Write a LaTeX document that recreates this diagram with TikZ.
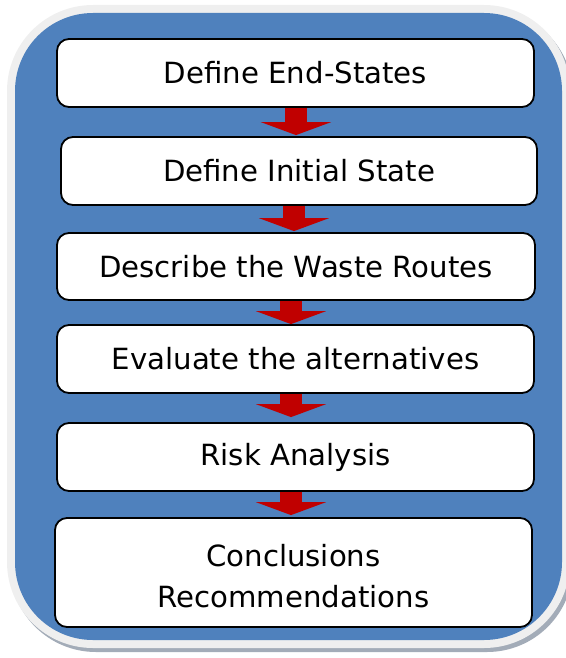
\documentclass[tikz,border=0pt]{standalone}
\usepackage{fontspec}
\setmainfont{DejaVu Sans}
\usetikzlibrary{arrows.meta,calc}
\definecolor{panelblue}{HTML}{4F81BD}
\definecolor{rimgray}{HTML}{EFEFEF}
\definecolor{shadowgray}{HTML}{A3ACB8}
\definecolor{flowred}{HTML}{C00000}
\tikzset{
  stepbox/.style={draw=black, line width=1.8pt, fill=white, rounded corners=12pt,
    inner sep=0pt, font=\fontsize{29.2}{41.5}\selectfont, align=center},
  flow/.style={draw=flowred, line width=22pt,
    -{Triangle[width=70pt,length=13pt,fill=flowred]}},
}
\begin{document}
\begin{tikzpicture}[x=1pt,y=-1pt]
\useasboundingbox (0,0) rectangle (565,658);
% panel: shadow, light rim, blue face
\fill[shadowgray, rounded corners=86pt] (10,9) rectangle (573,652);
\fill[rimgray, rounded corners=86pt] (7,5) rectangle (570,648);
\fill[panelblue, rounded corners=78pt] (15,13) rectangle (562,640);

% process steps
\node[stepbox, minimum width=477pt, minimum height=68pt] (b1) at (295.5,73) {Define End-States};
\node[stepbox, minimum width=476pt, minimum height=68pt] (b2) at (299,171) {Define Initial State};
\node[stepbox, minimum width=478pt, minimum height=67pt] (b3) at (296,266.5) {Describe the Waste Routes};
\node[stepbox, minimum width=477pt, minimum height=68pt] (b4) at (295.5,359) {Evaluate the alternatives};
\node[stepbox, minimum width=477pt, minimum height=68pt] (b5) at (295.5,457) {Risk Analysis};
\node[stepbox, minimum width=477pt, minimum height=109pt] (b6) at (293.5,572.5) {\raisebox{-6pt}[\height][\depth]{\begin{tabular}{@{}c@{}}Conclusions\\[0pt]Recommendations\end{tabular}}};

% arrows between steps
\coordinate (a1) at ($(b1.south)+(0.5,0)$);
\coordinate (a2) at ($(b2.south)+(-5,0)$);
\coordinate (a3) at ($(b3.south)+(-5,0)$);
\coordinate (a4) at ($(b4.south)+(-4.5,0)$);
\coordinate (a5) at ($(b5.south)+(-4.5,0)$);
\draw[flow] (a1) -- ($(a1 |- b2.north)+(0,-1)$);
\draw[flow] (a2) -- ($(a2 |- b3.north)+(0,-1)$);
\draw[flow] (a3) -- (a3 |- b4.north);
\draw[flow] (a4) -- ($(a4 |- b5.north)+(0,-5)$);
\draw[flow] (a5) -- ($(a5 |- b6.north)+(0,-2)$);
\end{tikzpicture}
\end{document}
